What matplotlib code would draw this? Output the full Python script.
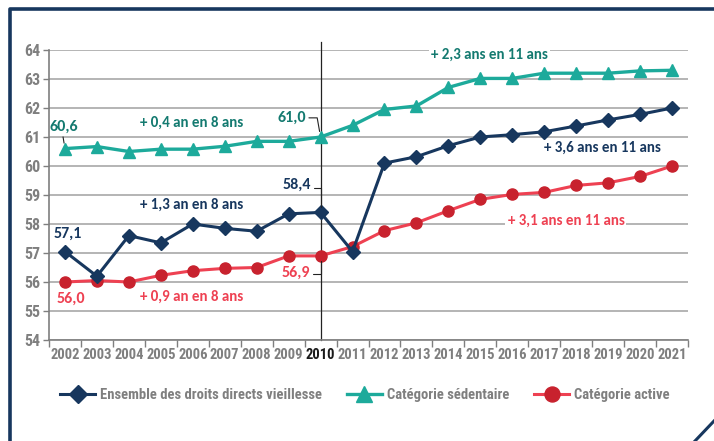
import numpy as np
import matplotlib
matplotlib.use("Agg")
import matplotlib.pyplot as plt
from matplotlib.lines import Line2D

years = [str(y) for y in range(2002, 2022)]
ensemble = [57.05, 56.2, 57.6, 57.35, 58.0, 57.85, 57.75, 58.35, 58.4, 57.05,
            60.1, 60.32, 60.7, 61.0, 61.08, 61.18, 61.38, 61.59, 61.78, 62.0]
sedentaire = [60.6, 60.67, 60.5, 60.58, 60.58, 60.68, 60.85, 60.85, 61.0, 61.4,
              61.95, 62.07, 62.71, 63.02, 63.02, 63.2, 63.2, 63.2, 63.28, 63.3]
active = [56.0, 56.05, 56.0, 56.23, 56.39, 56.47, 56.5, 56.9, 56.9, 57.22,
          57.77, 58.04, 58.46, 58.85, 59.02, 59.09, 59.33, 59.42, 59.64, 60.0]
y_ticks = list(range(54, 65))

NAVY = "#17375E"
TEAL = "#1DAA9B"
TEAL_TXT = "#147A70"
RED = "#EE4152"
RED_MK = "#C8222E"
GREY = "#7F7F7F"

narrow = ["Roboto Condensed", "Archivo Narrow", "Liberation Sans", "DejaVu Sans"]
lab = ["Carlito", "Lato", "DejaVu Sans"]

fig = plt.figure(figsize=(7.14, 4.41), dpi=100)
ax = fig.add_axes([49/714, 1 - 340/441, (688-49)/714, 290/441])

x = np.arange(len(years))
ax.plot(x, ensemble, color=NAVY, lw=2.2, marker="D", ms=7, zorder=4,
        label="Ensemble des droits directs vieillesse")
ax.plot(x, sedentaire, color=TEAL, lw=2.4, marker="^", ms=9, zorder=4,
        label="Catégorie sédentaire")
ax.plot(x, active, color=RED, lw=2.2, marker="o", ms=8, mfc=RED_MK, mec=RED_MK,
        zorder=3, label="Catégorie active")

ax.set_xlim(-0.5, len(years) - 0.5)
ax.set_ylim(54, 64)
ax.set_yticks(y_ticks)
ax.set_yticklabels([str(v) for v in y_ticks], family=narrow, weight="bold",
                   fontsize=11.5, color=GREY)
ax.grid(axis="y", color="#A8A8A8", lw=1.2)
ax.set_axisbelow(True)

# category ticks at boundaries, labels at centres
ax.set_xticks(np.arange(-0.5, len(years)), minor=False)
ax.set_xticklabels([])
ax.set_xticks(x, minor=True)
ax.set_xticklabels(years, minor=True, family=narrow, weight="bold",
                   fontsize=10.5, color=GREY)
ax.tick_params(axis="x", which="major", length=5, color=GREY, width=1)
ax.tick_params(axis="x", which="minor", length=0, pad=6)
ax.tick_params(axis="y", length=4, color=GREY, width=1, pad=2)
for t in ax.xaxis.get_minorticklabels():
    if t.get_text() == "2010":
        t.set_color("#1A1A1A")

for s in ["top", "right"]:
    ax.spines[s].set_visible(False)
for s in ["left", "bottom"]:
    ax.spines[s].set_color(GREY)
    ax.spines[s].set_linewidth(1.2)

i2010 = years.index("2010")
ax.axvline(i2010, ymin=0, ymax=1.028, color="#222222", lw=0.9, clip_on=False, zorder=2)

box = dict(facecolor="white", edgecolor="none", pad=1.5)

def label(txt, xy_txt, color, xy=None, relpos=(0.5, 0.5), conn="arc3", size=11.5):
    kw = {}
    if xy is not None:
        kw["arrowprops"] = dict(arrowstyle="-", color="#222222", lw=0.8,
                                relpos=relpos, connectionstyle=conn,
                                shrinkA=0, shrinkB=4)
    ax.annotate(txt, xy=xy if xy is not None else xy_txt, xytext=xy_txt,
                ha="center", va="center", color=color, fontsize=size,
                family=lab, weight="bold", zorder=5, **kw)

# value labels
label("60,6", (-0.03, 61.34), TEAL_TXT, xy=(0, sedentaire[0]), relpos=(0.45, 0.0))
label("61,0", (7.1, 61.66), TEAL_TXT, xy=(i2010, sedentaire[i2010]), relpos=(1.0, 0.5),
      conn="angle,angleA=0,angleB=100,rad=0")
label("63,3", (19.62, 63.59), TEAL_TXT)
label("57,1", (0.09, 57.66), NAVY)
label("58,4", (7.26, 59.34), NAVY, xy=(i2010, ensemble[i2010]), relpos=(1.0, 0.3),
      conn="angle,angleA=0,angleB=90,rad=0")
label("62,0", (19.62, 62.48), NAVY)
label("56,0", (0.19, 55.41), RED)
label("56,9", (7.23, 56.31), RED, xy=(i2010, active[i2010]), relpos=(1.0, 0.4),
      conn="angle,angleA=0,angleB=-90,rad=0")
label("60,0", (19.62, 59.45), RED)

# trend labels
def trend(txt, pos, color):
    ax.text(pos[0], pos[1], txt, ha="center", va="center", color=color,
            fontsize=10.8, family=lab, weight="bold", bbox=box, zorder=1.5)

trend("+ 0,4 an en 8 ans", (3.97, 61.48), TEAL_TXT)
trend("+ 1,3 an en 8 ans", (3.97, 58.66), NAVY)
trend("+ 0,9 an en 8 ans", (3.97, 55.48), RED)
trend("+ 2,3 ans en 11 ans", (13.3, 63.83), TEAL_TXT)
trend("+ 3,6 ans en 11 ans", (16.81, 60.62), NAVY)
trend("+ 3,1 ans en 11 ans", (15.68, 58.1), RED)

handles, labels = ax.get_legend_handles_labels()
leg = fig.legend(handles, labels, loc="center", bbox_to_anchor=(365/714, 1 - 395/441),
                 ncol=3, frameon=False, handlelength=2.4, handletextpad=0.35,
                 columnspacing=1.7, markerscale=1.35,
                 prop=dict(family=narrow, weight="bold", size=10.5))
for t in leg.get_texts():
    t.set_color(GREY)

# frame decoration
fc = "#17375E"
fig.add_artist(Line2D([10/714, 10/714, 1.0], [0.0, 1 - 9/441, 1 - 9/441],
                      color=fc, lw=2.6, transform=fig.transFigure))
fig.add_artist(Line2D([695/714, 1.0], [0.0, 1 - 421/441],
                      color=fc, lw=2.2, transform=fig.transFigure))

fig.savefig("out.png", dpi=100)
